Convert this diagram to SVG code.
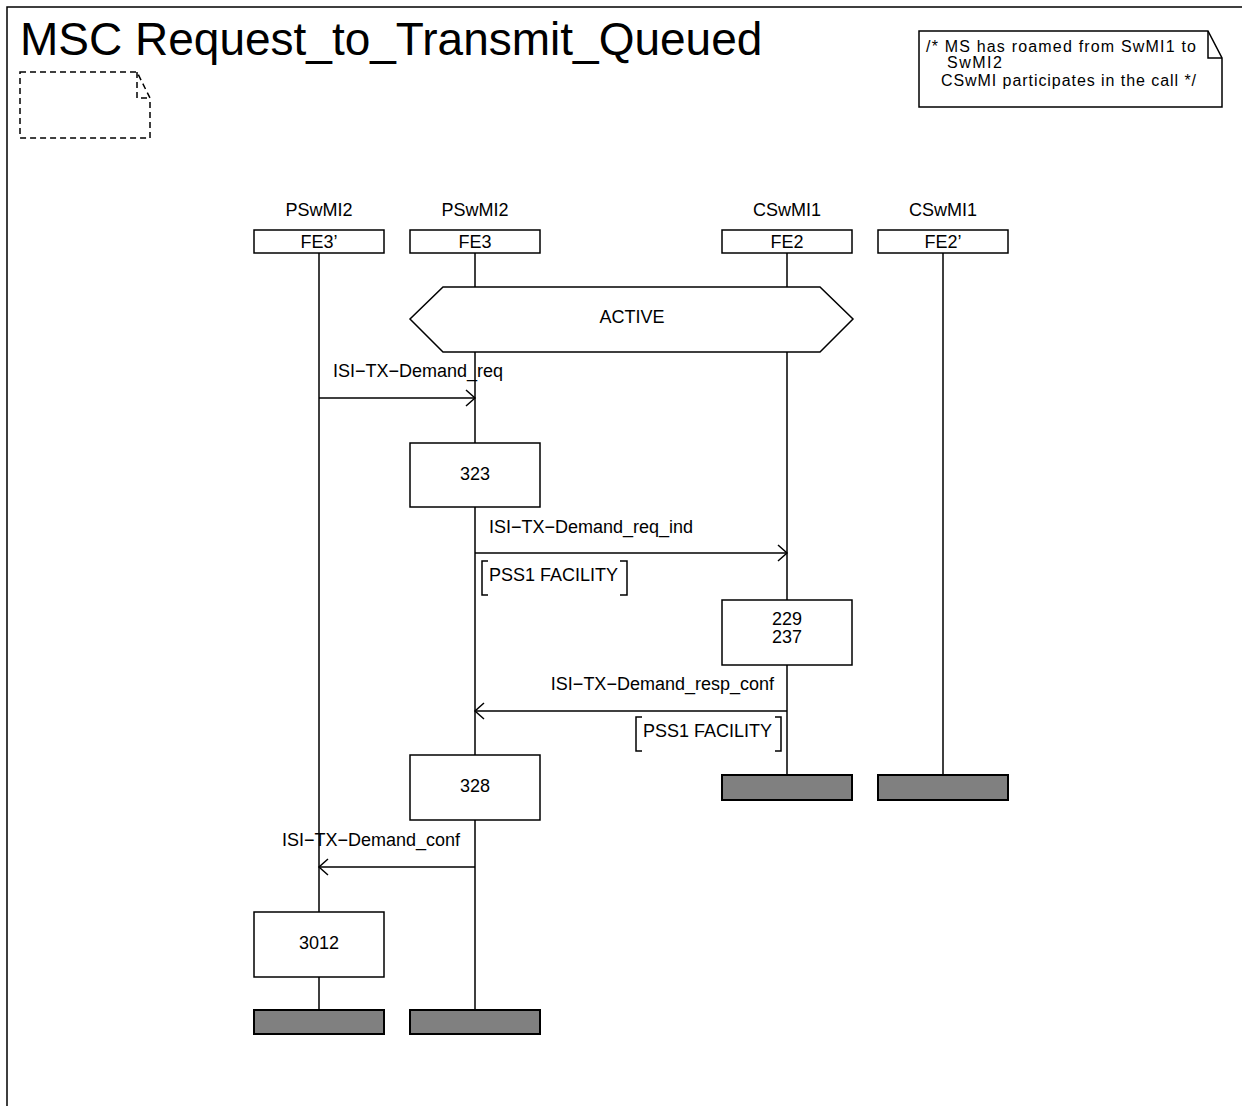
<svg xmlns="http://www.w3.org/2000/svg" width="1242" height="1106" viewBox="0 0 1242 1106">
<style>
text{font-family:"Liberation Sans",Arial,sans-serif;font-size:18px;fill:#000}
.t{font-size:46px}
.n{font-size:16px}
.c{text-anchor:middle}
.e{text-anchor:end}
.b{fill:#fff;stroke:#000;stroke-width:1.5}
.l{stroke:#000;stroke-width:1.5;fill:none}
.end{fill:#808080;stroke:#000;stroke-width:2}
</style>
<defs>
<marker id="ah" markerWidth="14" markerHeight="20" refX="11" refY="10" orient="auto" markerUnits="userSpaceOnUse">
<path d="M2,2 L11,10 L2,18" fill="none" stroke="#000" stroke-width="1.5"/>
</marker>
</defs>
<rect width="1242" height="1106" fill="#fff"/>
<path class="l" d="M7,1106 V7 H1242"/>
<text class="t" x="20" y="55">MSC Request_to_Transmit_Queued</text>
<path d="M20,72 H137 L150,98 V138 H20 Z M137,72 V98 H150" fill="none" stroke="#000" stroke-width="1.5" stroke-dasharray="6,4"/>
<g id="note">
<path class="b" d="M919,31 H1208 L1222,58 V107 H919 Z"/>
<path class="l" d="M1208,31 V58 H1222"/>
<text class="n" x="926" y="52" textLength="270" lengthAdjust="spacing">/* MS has roamed from SwMI1 to</text>
<text class="n" x="947" y="68" textLength="55" lengthAdjust="spacing">SwMI2</text>
<text class="n" x="941" y="86" textLength="255" lengthAdjust="spacing">CSwMI participates in the call */</text>
</g>
<g id="lifelines">
<path class="l" d="M319,253 V1010 M475,253 V1010 M787,253 V775 M943,253 V775"/>
</g>
<g id="FE3p">
<text class="c" x="319" y="216">PSwMI2</text>
<rect class="b" x="254" y="230" width="130" height="23"/>
<text class="c" x="319" y="248">FE3’</text>
<rect class="end" x="254" y="1010" width="130" height="24"/>
</g>
<g id="FE3">
<text class="c" x="475" y="216">PSwMI2</text>
<rect class="b" x="410" y="230" width="130" height="23"/>
<text class="c" x="475" y="248">FE3</text>
<rect class="end" x="410" y="1010" width="130" height="24"/>
</g>
<g id="FE2">
<text class="c" x="787" y="216">CSwMI1</text>
<rect class="b" x="722" y="230" width="130" height="23"/>
<text class="c" x="787" y="248">FE2</text>
<rect class="end" x="722" y="775" width="130" height="25"/>
</g>
<g id="FE2p">
<text class="c" x="943" y="216">CSwMI1</text>
<rect class="b" x="878" y="230" width="130" height="23"/>
<text class="c" x="943" y="248">FE2’</text>
<rect class="end" x="878" y="775" width="130" height="25"/>
</g>
<g id="active">
<path class="b" d="M443,287 H820 L853,319 L820,352 H443 L410,319 Z"/>
<text class="c" x="632" y="323">ACTIVE</text>
</g>
<g id="box323">
<rect class="b" x="410" y="443" width="130" height="64"/>
<text class="c" x="475" y="480">323</text>
</g>
<g id="box229">
<rect class="b" x="722" y="600" width="130" height="65"/>
<text class="c" x="787" y="625">229</text>
<text class="c" x="787" y="643">237</text>
</g>
<g id="box328">
<rect class="b" x="410" y="755" width="130" height="65"/>
<text class="c" x="475" y="792">328</text>
</g>
<g id="box3012">
<rect class="b" x="254" y="912" width="130" height="65"/>
<text class="c" x="319" y="949">3012</text>
</g>
<g id="connectors">
<line class="l" x1="319" y1="398" x2="475" y2="398" marker-end="url(#ah)"/>
<text x="333" y="377">ISI−TX−Demand_req</text>
<line class="l" x1="475" y1="553" x2="787" y2="553" marker-end="url(#ah)"/>
<text x="489" y="533">ISI−TX−Demand_req_ind</text>
<path class="l" d="M488,561 H482 V595 H488 M620,561 H627 V595 H620"/>
<text x="489" y="581">PSS1 FACILITY</text>
<line class="l" x1="787" y1="711" x2="475" y2="711" marker-end="url(#ah)"/>
<text class="e" x="774" y="690">ISI−TX−Demand_resp_conf</text>
<path class="l" d="M642,717 H636 V751 H642 M775,717 H781 V751 H775"/>
<text x="643" y="737">PSS1 FACILITY</text>
<line class="l" x1="475" y1="867" x2="319" y2="867" marker-end="url(#ah)"/>
<text x="282" y="846">ISI−TX−Demand_conf</text>
</g>
</svg>
